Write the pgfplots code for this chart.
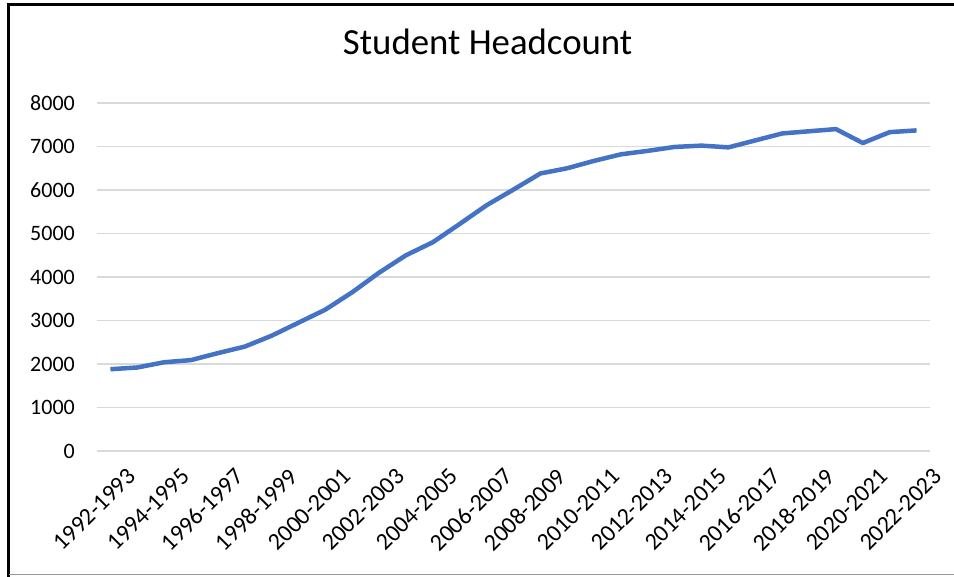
\documentclass[border=0pt]{standalone}
\usepackage{pgfplots}
\pgfplotsset{compat=1.18}
\usepackage{fontspec}
\setmainfont{Carlito}
\definecolor{exblue}{HTML}{4472C4}
\definecolor{gridgray}{HTML}{D9D9D9}
\begin{document}
\begin{tikzpicture}
\useasboundingbox (0,0) rectangle (954bp,577bp);
\begin{axis}[
  at={(97bp,126bp)}, anchor=south west,
  scale only axis, width=833bp, height=348bp,
  xmin=-0.5, xmax=30.5, ymin=0, ymax=8000,
  axis line style={draw=none},
  ytick={0,1000,...,8000},
  ymajorgrids, grid style={gridgray, line width=1.2bp},
  major tick length=0pt,
  xtick={0,2,...,30},
  xticklabels={1992-1993,1994-1995,1996-1997,1998-1999,2000-2001,2002-2003,2004-2005,2006-2007,2008-2009,2010-2011,2012-2013,2014-2015,2016-2017,2018-2019,2020-2021,2022-2023},
  /pgf/number format/assume math mode=true,
  /pgf/number format/1000 sep={},
  yticklabel style={font=\fontsize{22bp}{26bp}\selectfont, text=black, anchor=east, inner sep=0pt, xshift=-22bp},
  xticklabel style={font=\fontsize{24bp}{29bp}\selectfont, text=black, rotate=45, anchor=north east, inner sep=0pt, xshift=0bp, yshift=-22bp},
  title={Student Headcount},
  title style={font=\fontsize{36.8bp}{44bp}\selectfont, at={(rel axis cs:0.469,1.158)}, anchor=center, inner sep=0pt},
  clip=false,
]
\addplot[exblue, line width=4.5bp, line join=round, line cap=butt] coordinates {
(0,1880) (1,1920) (2,2040) (3,2090) (4,2250) (5,2400) (6,2650) (7,2950) (8,3250) (9,3650)
(10,4100) (11,4500) (12,4800) (13,5220) (14,5650) (15,6010) (16,6380) (17,6500) (18,6670) (19,6820)
(20,6900) (21,6990) (22,7020) (23,6980) (24,7140) (25,7300) (26,7350) (27,7400) (28,7080) (29,7330) (30,7370)
};
\end{axis}
\draw[black, line width=2.5bp] (8.7bp,0) -- (8.7bp,572.5bp) -- (954bp,572.5bp);
\draw[black!40, line width=1bp] (8.7bp,2.7bp) -- (954bp,2.7bp);
\end{tikzpicture}
\end{document}
